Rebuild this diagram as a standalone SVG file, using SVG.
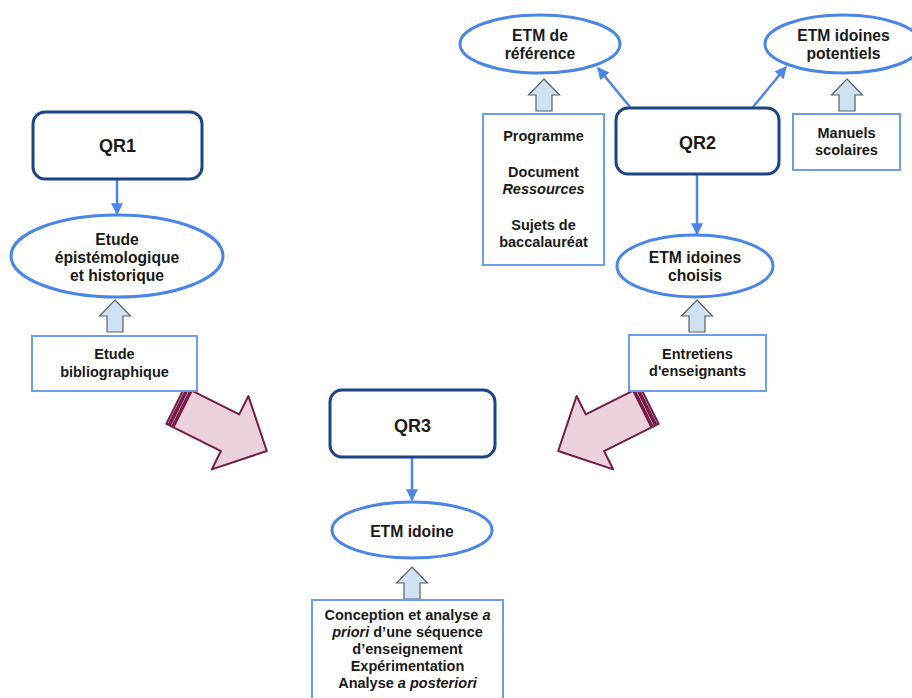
<svg xmlns="http://www.w3.org/2000/svg" width="912" height="698" viewBox="0 0 912 698">
<style>
text{font-family:"Liberation Sans",Arial,sans-serif;font-weight:bold;fill:#1a1a1a;text-anchor:middle}
.qr{fill:#fff;stroke:#1c4587;stroke-width:3}
.qt{font-size:18px}
.el{fill:#fff;stroke:#4a86e8;stroke-width:3}
.et{font-size:15.7px}
.bx{fill:#fff;stroke:#6d9eeb;stroke-width:2}
.bt{font-size:14.5px}
.con{stroke:#4a86e8;stroke-width:2.5;fill:none}
.ha{fill:#cfe2f3;stroke:#5f5f5f;stroke-width:1.2}
.pa{fill:#ead1dc;stroke:#741b47;stroke-width:2;stroke-linejoin:round}
</style>
<defs>
<marker id="ah" viewBox="0 0 10 10" refX="9" refY="5" markerWidth="4.8" markerHeight="4.8" markerUnits="strokeWidth" orient="auto">
<path d="M0,0 L10,5 L0,10 z" fill="#4a86e8"/>
</marker>
<path id="hollow" d="M0,0 L15.5,16 L8,16 L8,32 L-8,32 L-8,16 L-15.5,16 Z"/>
<g id="pink">
<path class="pa" d="M8,-20.5 L61,-20.5 L61,-41 L102,0 L61,41 L61,20.5 L8,20.5 Z"/>
<path class="pa" d="M0,-20.5 L2.5,-20.5 L2.5,20.5 L0,20.5 Z"/>
<path class="pa" d="M4,-20.5 L6.5,-20.5 L6.5,20.5 L4,20.5 Z"/>
</g>
</defs>

<g id="connectors">
<line class="con" x1="117" y1="179" x2="117" y2="214" marker-end="url(#ah)"/>
<line class="con" x1="630" y1="107" x2="598" y2="68" marker-end="url(#ah)"/>
<line class="con" x1="753" y1="107" x2="786" y2="67" marker-end="url(#ah)"/>
<line class="con" x1="697" y1="174" x2="697" y2="234" marker-end="url(#ah)"/>
<line class="con" x1="412" y1="457" x2="412" y2="500" marker-end="url(#ah)"/>
<use href="#hollow" class="ha" transform="translate(115,300)"/>
<use href="#hollow" class="ha" transform="translate(544,79)"/>
<use href="#hollow" class="ha" transform="translate(847,79)"/>
<use href="#hollow" class="ha" transform="translate(697,300)"/>
<use href="#hollow" class="ha" transform="translate(412,567)"/>
<use href="#pink" transform="translate(175.5,405.5) rotate(26.5)"/>
<use href="#pink" transform="translate(649.5,405.5) rotate(153.5)"/>
</g>

<g id="qr1">
<rect class="qr" x="33" y="112" width="169" height="67" rx="12"/>
<text class="qt" x="117.5" y="152">QR1</text>
</g>
<g id="etude-epistemologique">
<ellipse class="el" cx="117" cy="256" rx="106" ry="41"/>
<text class="et" x="117" y="245">Etude</text>
<text class="et" x="117" y="263">épistémologique</text>
<text class="et" x="117" y="281">et historique</text>
</g>
<g id="etude-bibliographique">
<rect class="bx" x="32" y="336" width="165" height="55"/>
<text class="bt" x="114.5" y="359">Etude</text>
<text class="bt" x="114.5" y="377">bibliographique</text>
</g>

<g id="qr2">
<rect class="qr" x="616" y="108" width="163" height="66" rx="12"/>
<text class="qt" x="697.5" y="149">QR2</text>
</g>
<g id="etm-reference">
<ellipse class="el" cx="540" cy="44" rx="80" ry="29"/>
<text class="et" x="540" y="41">ETM de</text>
<text class="et" x="540" y="59">référence</text>
</g>
<g id="etm-potentiels">
<ellipse class="el" cx="843" cy="44" rx="78" ry="29"/>
<text class="et" x="843.5" y="41">ETM idoines</text>
<text class="et" x="843.5" y="59">potentiels</text>
</g>
<g id="programme">
<rect class="bx" x="483" y="114" width="121" height="151"/>
<text class="bt" x="543.5" y="141">Programme</text>
<text class="bt" x="543.5" y="177">Document</text>
<text class="bt" x="543.5" y="194" font-style="italic">Ressources</text>
<text class="bt" x="543.5" y="230">Sujets de</text>
<text class="bt" x="543.5" y="247">baccalauréat</text>
</g>
<g id="manuels">
<rect class="bx" x="793" y="114" width="107" height="56"/>
<text class="bt" x="846.5" y="138">Manuels</text>
<text class="bt" x="846.5" y="155">scolaires</text>
</g>
<g id="etm-choisis">
<ellipse class="el" cx="695" cy="266" rx="78" ry="31"/>
<text class="et" x="695" y="263">ETM idoines</text>
<text class="et" x="695" y="281">choisis</text>
</g>
<g id="entretiens">
<rect class="bx" x="629" y="335" width="137" height="56"/>
<text class="bt" x="697.5" y="359">Entretiens</text>
<text class="bt" x="697.5" y="376">d'enseignants</text>
</g>

<g id="qr3">
<rect class="qr" x="330" y="390" width="165" height="67" rx="12"/>
<text class="qt" x="412.5" y="432">QR3</text>
</g>
<g id="etm-idoine">
<ellipse class="el" cx="412" cy="530" rx="80" ry="28"/>
<text class="et" x="412" y="537">ETM idoine</text>
</g>
<g id="conception">
<rect class="bx" x="312" y="600" width="191" height="110"/>
<text class="bt" x="407.5" y="620">Conception et analyse <tspan font-style="italic">a</tspan></text>
<text class="bt" x="407.5" y="637"><tspan font-style="italic">priori</tspan> d’une séquence</text>
<text class="bt" x="407.5" y="654">d’enseignement</text>
<text class="bt" x="407.5" y="671">Expérimentation</text>
<text class="bt" x="407.5" y="688">Analyse <tspan font-style="italic">a posteriori</tspan></text>
</g>
</svg>
